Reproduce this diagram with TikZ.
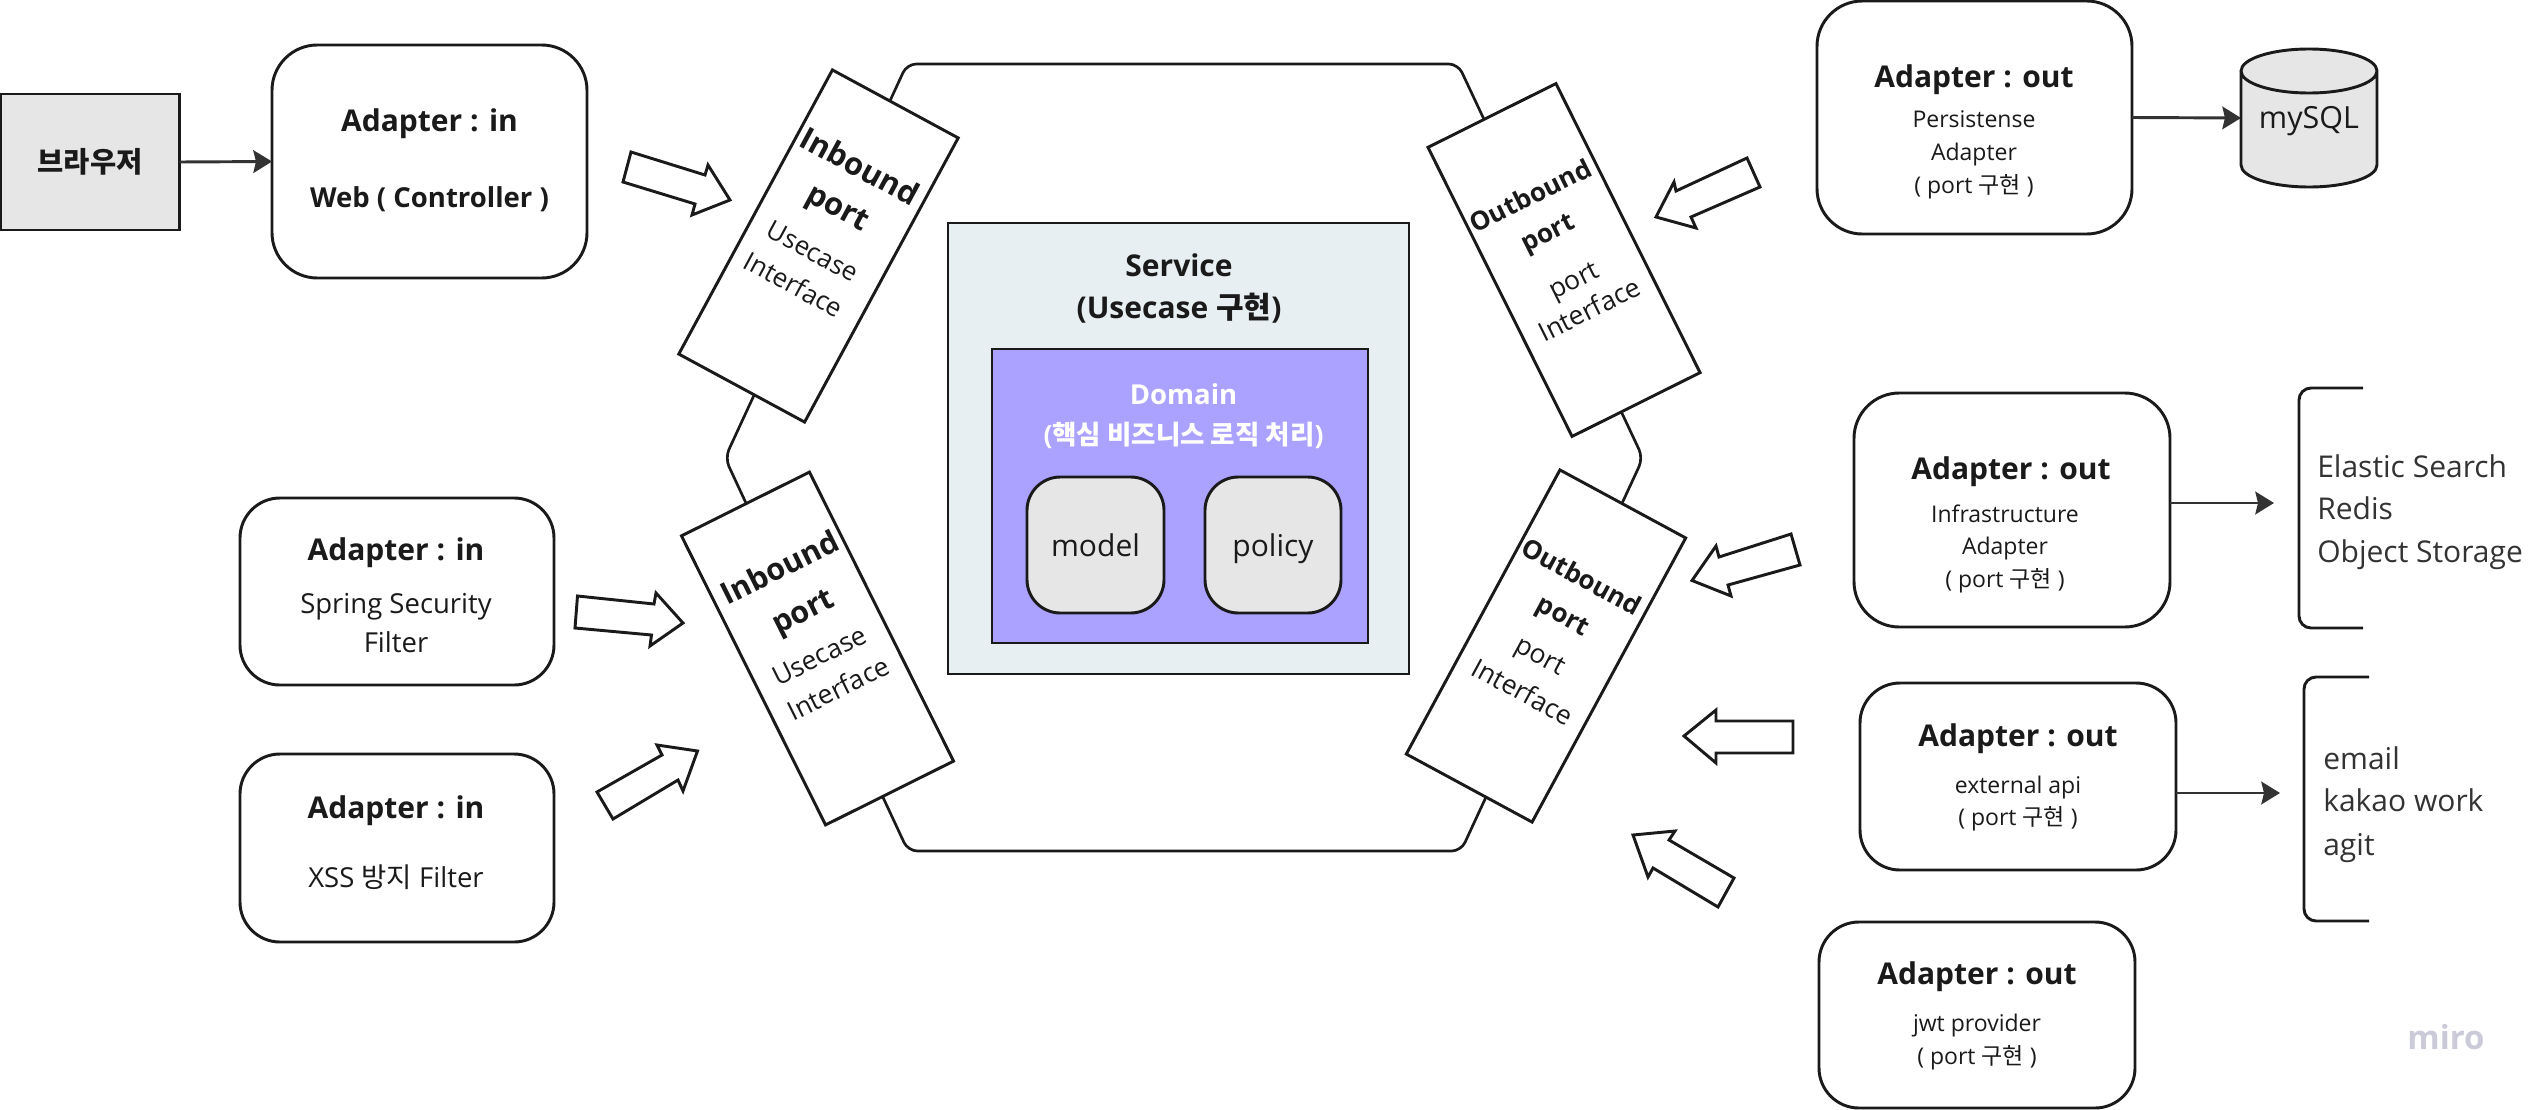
\documentclass[tikz,border=0pt]{standalone}
\usepackage{fontspec}
\usetikzlibrary{arrows.meta}
\setmainfont{Open Sans}
\newfontfamily\krfont{Noto Sans CJK KR}
\definecolor{ink}{HTML}{1A1A1A}
\definecolor{soft}{HTML}{333333}
\definecolor{greyfill}{HTML}{E6E6E6}
\definecolor{svcfill}{HTML}{E7EFF3}
\definecolor{domfill}{HTML}{ABA2FF}
\definecolor{mirogrey}{HTML}{CBCAD9}
\newcommand\fz[1]{\fontsize{\fpeval{#1*0.75}}{\fpeval{#1*0.9}}\selectfont}
\tikzset{
  sized/.style 2 args={minimum width=#1*0.75pt, minimum height=#2*0.75pt, inner sep=0pt, outer sep=0pt},
  edge/.style={draw=ink, line width=2.2pt},
  advbox/.style={edge, rounded corners=34pt, fill=white},
  advboxs/.style={edge, rounded corners=30pt, fill=white},
  innerbox/.style={edge, rounded corners=25pt, fill=greyfill, text height=17pt, text depth=0pt},
  portbox/.style={edge, line width=2.2pt, fill=white, sharp corners},
  blockarrow/.style={draw=ink, line width=2.2pt, fill=white, line join=miter},
  conn/.style={draw=soft, line width=2.2pt, -{Stealth[length=14pt,width=17pt,inset=2pt]}},
  tline/.style={anchor=mid, text=ink, inner sep=0pt},
  head/.style={tline, yshift=-6pt, font=\fz{30}\bfseries},
  sub/.style={tline, yshift=-3.75pt, font=\fz{23}},
  subb/.style={tline, yshift=-5pt, font=\fz{27.5}},
  big/.style={tline, yshift=-6pt, text=soft, font=\fz{30}, anchor=mid west},
}
\begin{document}
\begin{tikzpicture}[x=0.75pt,y=-0.75pt]
\useasboundingbox (0,0) rectangle (2546,1110);
% hexagon
\draw[draw=ink, line width=2pt, rounded corners=7pt]
  (907,64) -- (1458,64) -- (1643,458) -- (1461,851) -- (908,851) -- (725,458) -- cycle;
% left column
\node[edge, fill=greyfill, sized={179}{136}] (browser) at (90,162) {};
\node[tline, yshift=-5pt, font=\fz{28.5}\bfseries\krfont] (browsert) at (90,162) {브라우저};
\node[advbox, sized={315}{233}] (adweb) at (429.5,161.5) {};
\node[head] (adwebh) at (429.5,120) {Adapter : in};
\node[tline, yshift=-5pt, font=\fz{27.5}\bfseries] (adwebs) at (429.5,197) {Web ( Controller )};
\draw[conn] (browser.east) -- (adweb.west);
\node[advboxs, sized={314}{187}] (adsec) at (397,591.5) {};
\node[head] (adsech) at (396,549) {Adapter : in};
\node[subb] (adsec1) at (396,603) {Spring Security};
\node[subb] (adsec2) at (396,642) {Filter};
\node[advboxs, sized={314}{188}] (adxss) at (397,848) {};
\node[head] (adxssh) at (396,807) {Adapter : in};
\node[subb] (adxss1) at (396,877) {XSS {\krfont 방지} Filter};
% ports
\node[portbox, sized={143}{323}, rotate=-28.4] (pin1) at (818.5,246) {};
\node[tline, rotate=-28.4, font=\fz{31}\bfseries] (pin1a) at (856,173) {Inbound};
\node[tline, rotate=-28.4, font=\fz{31}\bfseries] (pin1b) at (835,213) {port};
\node[tline, rotate=-28.4, font=\fz{26}] (pin1c) at (810,256) {Usecase};
\node[tline, rotate=-28.4, font=\fz{26}] (pin1d) at (791,290) {Interface};
\node[portbox, sized={143}{323}, rotate=26.5] (pin2) at (817.5,648.5) {};
\node[tline, rotate=26.5, font=\fz{30.5}\bfseries] (pin2a) at (783,574) {Inbound};
\node[tline, rotate=26.5, font=\fz{30.5}\bfseries] (pin2b) at (806,617) {port};
\node[tline, rotate=26.5, font=\fz{26.5}] (pin2c) at (822,661) {Usecase};
\node[tline, rotate=26.5, font=\fz{26.5}] (pin2d) at (841,694) {Interface};
\node[portbox, sized={143}{323}, rotate=26.5] (pout1) at (1564,260) {};
\node[tline, rotate=26.5, font=\fz{26}\bfseries] (pout1a) at (1533,201) {Outbound};
\node[tline, rotate=26.5, font=\fz{26}\bfseries] (pout1b) at (1550,237) {port};
\node[tline, rotate=26.5, font=\fz{26.5}] (pout1c) at (1576,285) {port};
\node[tline, rotate=26.5, font=\fz{26.5}] (pout1d) at (1592,315) {Interface};
\node[portbox, sized={143}{323}, rotate=-28.4] (pout2) at (1546,646) {};
\node[tline, rotate=-28.4, font=\fz{26}\bfseries] (pout2a) at (1579,582) {Outbound};
\node[tline, rotate=-28.4, font=\fz{26}\bfseries] (pout2b) at (1561,620) {port};
\node[tline, rotate=-28.4, font=\fz{26.5}] (pout2c) at (1538,660) {port};
\node[tline, rotate=-28.4, font=\fz{26.5}] (pout2d) at (1520,697) {Interface};
% centre
\node[edge, fill=svcfill, sized={461}{451}] (service) at (1178.5,448.5) {};
\node[tline, yshift=-5.5pt, font=\fz{30}\bfseries] (servicea) at (1179,266) {Service};
\node[tline, yshift=-5.5pt, font=\fz{30}\bfseries] (serviceb) at (1179,308) {(Usecase {\krfont 구현})};
\node[edge, fill=domfill, sized={376}{294}] (domain) at (1180,496) {};
\node[tline, yshift=-4.5pt, text=white, font=\fz{27.5}\bfseries] (domaina) at (1183.5,395) {Domain};
\node[tline, yshift=-4.5pt, text=white, font=\fz{26.5}\bfseries] (domainb) at (1183.5,435) {({\krfont 핵심 비즈니스 로직 처리})};
\node[innerbox, sized={137}{136}, font=\fz{30}, text=ink] (model) at (1095.5,545) {model};
\node[innerbox, sized={136}{136}, font=\fz{30}, text=ink] (policy) at (1273,545) {policy};
% block arrows in
\draw[blockarrow] (631,152) -- (705,175) -- (708,165) -- (730,200) -- (692,215) -- (695,204) -- (623,182) -- cycle;
\draw[blockarrow] (577.5,596) -- (654,604) -- (656,593) -- (683,623) -- (650,646) -- (651.5,635) -- (575,628) -- cycle;
\draw[blockarrow] (597,792) -- (662,755) -- (657,745) -- (697.5,751) -- (683,791) -- (678,780) -- (613,819) -- cycle;
% block arrows out
\draw[blockarrow] (1656,217) -- (1674,182) -- (1676,191) -- (1747,158) -- (1760,187) -- (1691,217) -- (1696,228) -- cycle;
\draw[blockarrow] (1692,580.5) -- (1716,546) -- (1719,557) -- (1791,534) -- (1800,565) -- (1728,585) -- (1731,596) -- cycle;
\draw[blockarrow] (1684,736) -- (1716,710) -- (1716,721) -- (1793,721) -- (1793,753) -- (1716,753) -- (1716,763) -- cycle;
\draw[blockarrow] (1633,835) -- (1675,831) -- (1669,840) -- (1734,878) -- (1718,907) -- (1653,868) -- (1648,877) -- cycle;
% adapter out 1
\node[advbox, sized={315}{233}] (adpers) at (1974.5,117.5) {};
\node[head] (adpersh) at (1974,76) {Adapter : out};
\node[sub] (adpers1) at (1974,119) {Persistense};
\node[sub] (adpers2) at (1974,152) {Adapter};
\node[sub] (adpers3) at (1974,185) {( port {\krfont 구현} )};
% mySQL
\fill[greyfill] (2241,71) -- (2241,165) arc[start angle=180, end angle=360, x radius=68, y radius=-22] -- (2377,71) arc[start angle=0, end angle=180, x radius=68, y radius=-22] -- cycle;
\draw[edge] (2241,71) -- (2241,165) arc[start angle=180, end angle=360, x radius=68, y radius=-22] -- (2377,71) arc[start angle=0, end angle=180, x radius=68, y radius=-22] arc[start angle=180, end angle=360, x radius=68, y radius=-22];
\node[sized={136}{138}, font=\fz{30}, text=ink] (mysql) at (2309,118) {};
\node[tline, yshift=-3.5pt, font=\fz{30.5}] (mysqlt) at (2309,120) {mySQL};
\draw[conn] (adpers.east) -- (mysql.west);
% adapter out 2
\node[advbox, sized={316}{234}] (adinf) at (2012,510) {};
\node[head] (adinfh) at (2011,468) {Adapter : out};
\node[sub] (adinf1) at (2005,514) {Infrastructure};
\node[sub] (adinf2) at (2005,546) {Adapter};
\node[sub] (adinf3) at (2005,579) {( port {\krfont 구현} )};
\coordinate (brk1) at (2274,503);
\draw[conn] (adinf.east |- brk1) -- (brk1);
\draw[edge, rounded corners=9pt, fill=none] (2363,388) -- (2299,388) -- (2299,628) -- (2363,628);
\node[big] (brk1a) at (2317,466) {Elastic Search};
\node[big] (brk1b) at (2317,508) {Redis};
\node[big] (brk1c) at (2317,551) {Object Storage};
% adapter out 3
\node[advboxs, sized={316}{187}] (adext) at (2018,776.5) {};
\node[head] (adexth) at (2018,735) {Adapter : out};
\node[sub] (adext1) at (2018,785) {external api};
\node[sub] (adext2) at (2018,817) {( port {\krfont 구현} )};
\coordinate (brk2) at (2280,793);
\draw[conn] (adext.east |- brk2) -- (brk2);
\draw[edge, rounded corners=9pt, fill=none] (2369,677) -- (2304,677) -- (2304,921) -- (2369,921);
\node[big] (brk2a) at (2323,758) {email};
\node[big] (brk2b) at (2323,800) {kakao work};
\node[big] (brk2c) at (2323,844) {agit};
% adapter out 4
\node[advboxs, sized={316}{186}] (adjwt) at (1977,1015) {};
\node[head] (adjwth) at (1977,973) {Adapter : out};
\node[sub] (adjwt1) at (1977,1023) {jwt provider};
\node[sub] (adjwt2) at (1977,1056) {( port {\krfont 구현} )};
% watermark
\node[anchor=mid, yshift=-5pt, inner sep=0pt, text=mirogrey, font=\fz{33}\bfseries] (miro) at (2446,1039) {miro};
\end{tikzpicture}
\end{document}
